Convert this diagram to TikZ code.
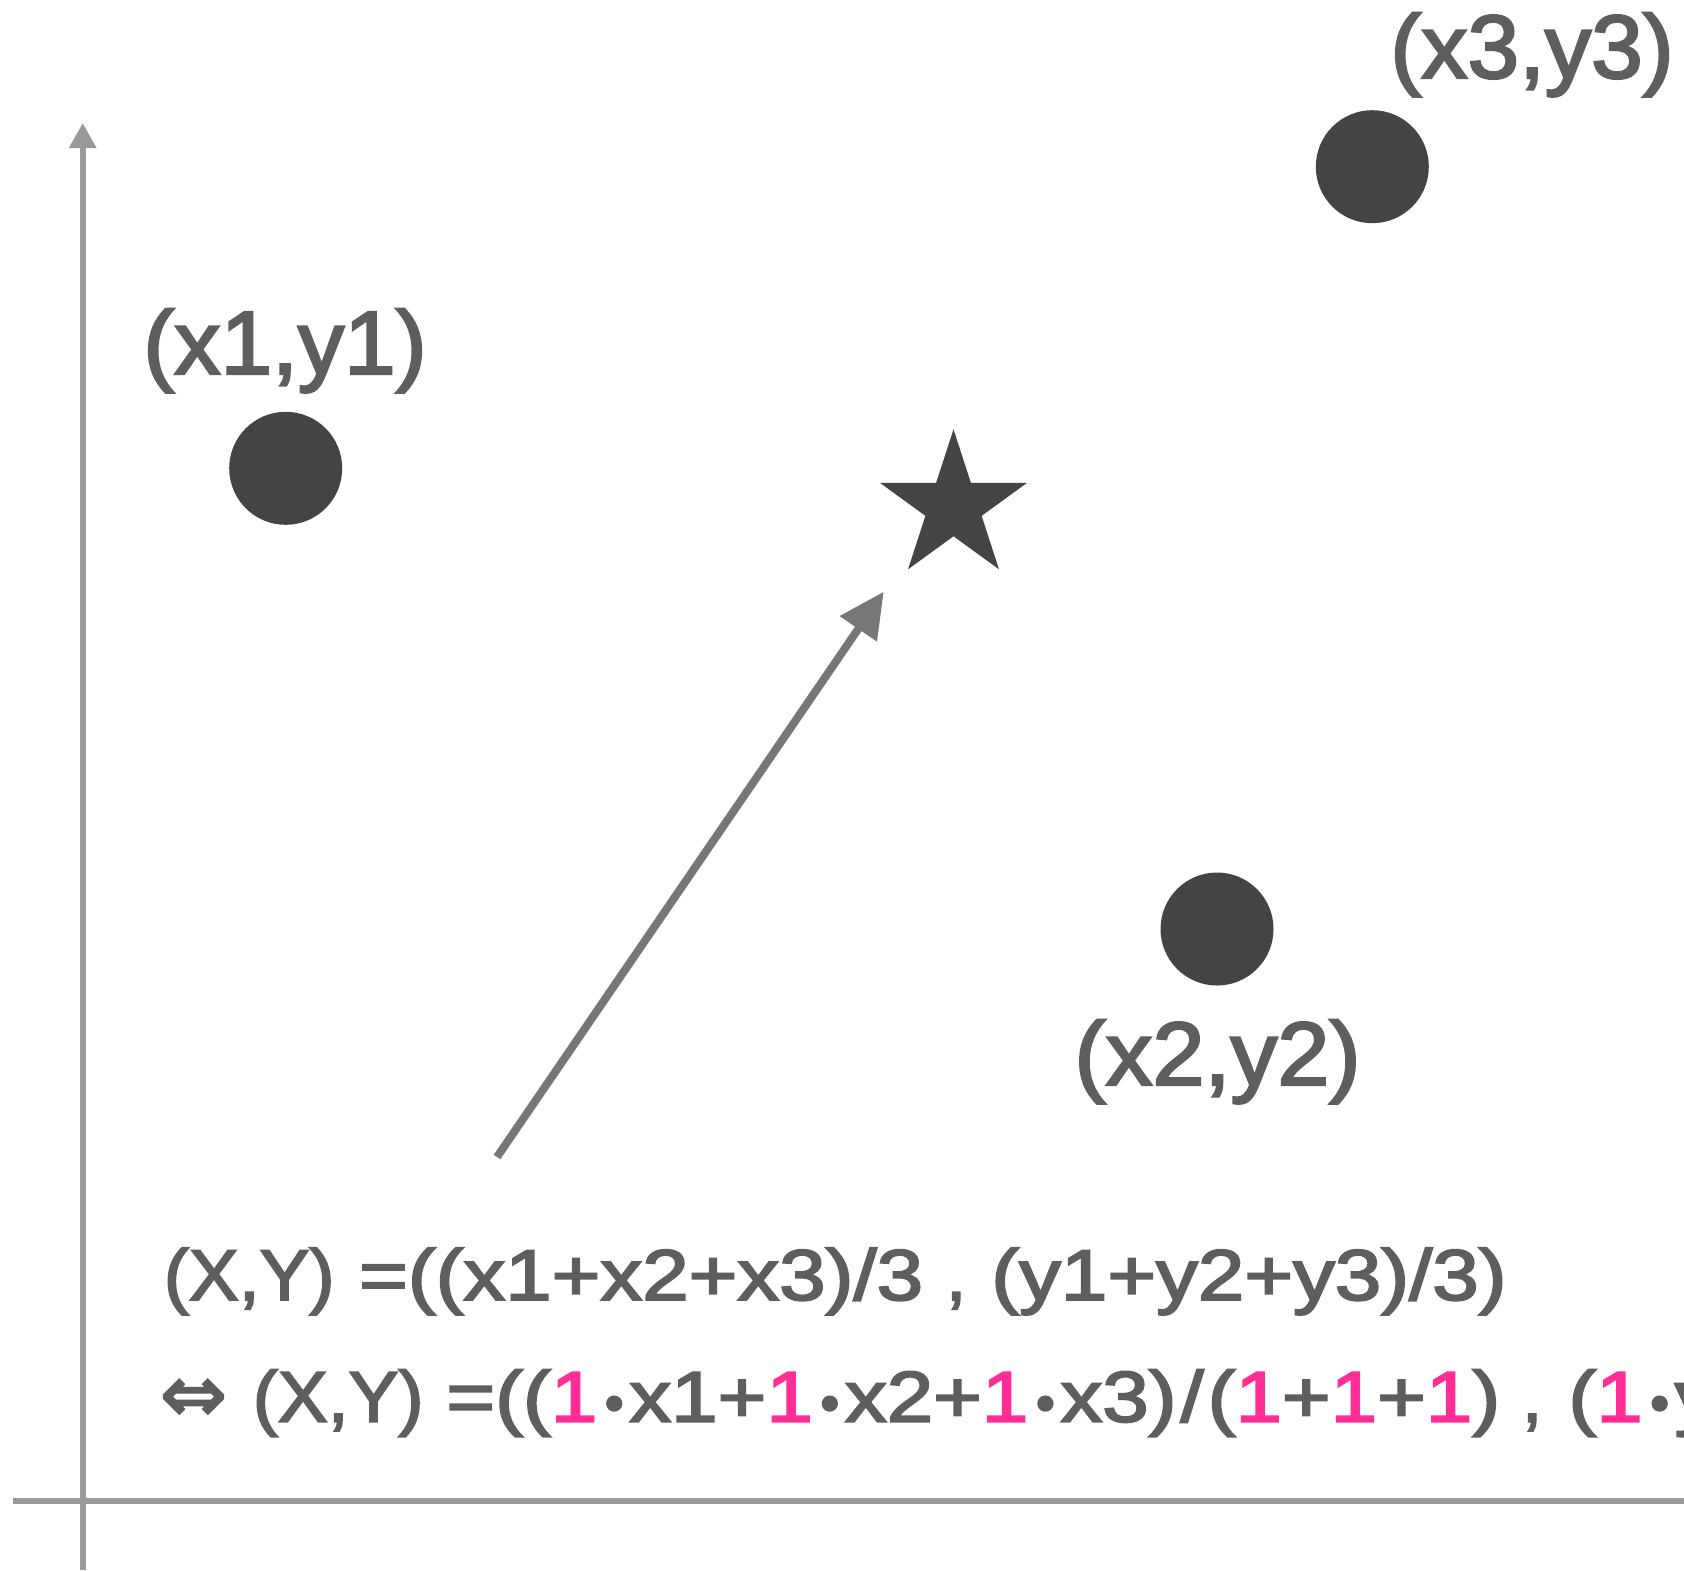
\documentclass[tikz,border=0pt]{standalone}
\usepackage{fontspec}
\setmainfont{Liberation Sans}
\newfontfamily\semi[FakeBold=2.6]{Liberation Sans}
\newfontfamily\djv[FakeBold=2.6]{DejaVu Sans}
\usetikzlibrary{arrows.meta,shapes.geometric}
\definecolor{txt}{HTML}{5E5E5E}
\definecolor{dot}{HTML}{444444}
\definecolor{axis}{HTML}{999999}
\definecolor{arr}{HTML}{777777}
\definecolor{pk}{HTML}{FF2D95}
\newcommand{\pone}{\textcolor{pk}{1}}
\newcommand{\cdt}{\kern3.2pt\scalebox{0.655}[0.76]{•}\kern2.4pt}
\newcommand{\sls}{\kern1.7pt/\kern1.7pt}
\tikzset{
  pt/.style={circle,fill=dot,draw=none,inner sep=0pt,minimum size=56.5pt},
  lbl/.style={text=txt,inner sep=0pt,anchor=base,font=\semi\fontsize{45pt}{54pt}\selectfont},
  frm/.style={text=txt,inner sep=0pt,anchor=base west,font=\semi\fontsize{36pt}{44pt}\selectfont},
  axisline/.style={draw=axis,line width=3pt},
}
\begin{document}
\begin{tikzpicture}[x=0.5pt,y=-0.5pt]
\useasboundingbox (0,0) rectangle (1684,1570);
% axes
\coordinate (ybot) at (82.7,1570);
\coordinate (ytop) at (82.7,123);
\coordinate (xl) at (13,1500.7);
\coordinate (xr) at (1690,1500.7);
\draw[axisline] (xl) -- (xr);
\draw[axisline,-{Triangle[length=12.5pt,width=13pt]}] (ybot) -- (ytop);
% points
\node[pt] (p1) at (285.7,468.3) {};
\node[pt] (p2) at (1217,929) {};
\node[pt] (p3) at (1372.3,166.7) {};
\node[star,star points=5,star point ratio=2.618,fill=dot,draw=none,inner sep=0pt,minimum size=77.4pt] (g) at (953.5,506.7) {};
% labels
\node[lbl] (l1) at (285,374) {\scalebox{1.03}[1]{(x1,y1)}};
\node[lbl] (l2) at (1217.5,1085) {\scalebox{1.04}[1]{(x2,y2)}};
\node[lbl] (l3) at (1532,78) {\scalebox{1.03}[1]{(x3,y3)}};
% arrow
\coordinate (a0) at (497,1157);
\coordinate (a1) at (883.7,591.7);
\draw[draw=arr,line width=4pt,-{Triangle[length=22.5pt,width=21.5pt]}] (a0) -- (a1);
% formula line 1
\node[frm] (f1a) at (163.5,1300) {\scalebox{1.04}[1]{(X,Y)}};
\node[frm] (f1b) at (358.7,1300) {\scalebox{1.16}[1]{=((x1+x2+x3)/3}};
\node[frm] (f1c) at (945.7,1300) {,};
\node[frm] (f1d) at (990.9,1300) {\scalebox{1.16}[1]{(y1+y2+y3)/3)}};
% formula line 2
\node[frm,font=\djv\fontsize{40pt}{48pt}\selectfont] (f2a) at (159.6,1421.7) {⇔};
\node[frm] (f2b) at (252.5,1421.7) {\scalebox{1.04}[1]{(X,Y)}};
\node[frm] (f2c) at (446,1421.7) {\scalebox{1.16}[1]{=((\pone\cdt x1+\pone\cdt x2+\pone\cdt x3)\sls(\pone+\pone+\pone)}};
\node[frm] (f2d) at (1521.7,1421.7) {,};
\node[frm] (f2e) at (1568,1421.7) {\scalebox{1.16}[1]{(\pone\cdt y1+\pone\cdt y2+\pone\cdt y3)\sls(\pone+\pone+\pone))}};
\end{tikzpicture}
\end{document}
